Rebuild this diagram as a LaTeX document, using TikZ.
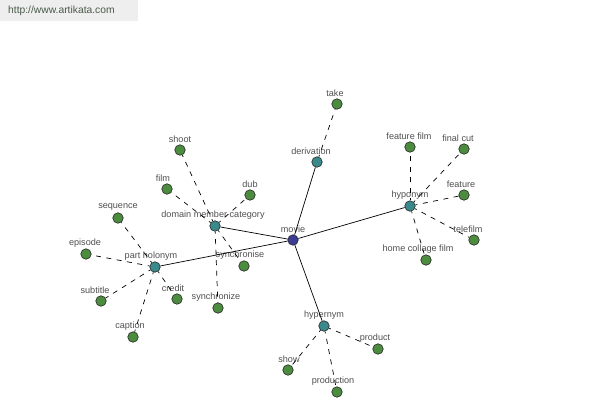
\documentclass[tikz,border=0pt]{standalone}
\usepackage{fontspec}
\setmainfont{Liberation Sans}
\definecolor{leafgreen}{HTML}{4C8C3E}
\definecolor{catteal}{HTML}{3A8A8C}
\definecolor{rootblue}{HTML}{3C3C96}
\definecolor{labgray}{HTML}{505050}
\definecolor{wmbg}{HTML}{EEEEEE}
\definecolor{wmtext}{HTML}{4A5A4A}
\begin{document}
\begin{tikzpicture}[x=1pt,y=-1pt,
  dot/.style={circle,draw=black!85,line width=0.6pt,minimum size=10.5pt,inner sep=0pt},
  leaf/.style={dot,fill=leafgreen},
  catn/.style={dot,fill=catteal},
  rootn/.style={dot,fill=rootblue},
  lab/.style={font=\fontsize{9.1}{10}\selectfont,text=labgray,inner sep=0pt},
  solidedge/.style={draw=black,line width=0.7pt},
  dashedge/.style={draw=black,line width=0.7pt,dash pattern=on 5pt off 5.5pt,dash phase=3pt}]
\useasboundingbox[fill=white] (0,0) rectangle (600,400);
\fill[wmbg] (0,0) rectangle (138,21);
\node[font=\fontsize{10.3}{11}\selectfont,text=wmtext,anchor=west,inner sep=0pt] (wm) at (8,11) {http://www.artikata.com};

% macro: name, x, y, style, text, dx
\newcommand\gnode[6]{%
  \node[#4] (#1) at (#2,#3) {};
  \node[lab] (#1-l) at (#2+#6,#3-11) {#5};}

\gnode{movie}{293}{240}{rootn}{movie}{0}
\gnode{derivation}{317}{162}{catn}{derivation}{-6}
\gnode{take}{337}{104}{leaf}{take}{-2}
\gnode{hyponym}{410}{206}{catn}{hyponym}{0}
\gnode{featurefilm}{410}{147}{leaf}{feature film}{-1}
\gnode{finalcut}{464}{149}{leaf}{final cut}{-6}
\gnode{feature}{464}{195}{leaf}{feature}{-3}
\gnode{telefilm}{474}{240}{leaf}{telefilm}{-6}
\gnode{homecollage}{426}{260}{leaf}{home collage film}{-8}
\gnode{hypernym}{324}{326}{catn}{hypernym}{0}
\gnode{product}{378}{349}{leaf}{product}{-3}
\gnode{show}{288}{370}{leaf}{show}{1}
\gnode{production}{337}{392}{leaf}{production}{-4}
\gnode{dmc}{215}{226}{catn}{domain member category}{-2}
\gnode{shoot}{180}{150}{leaf}{shoot}{0}
\gnode{film}{167}{189}{leaf}{film}{-4}
\gnode{dub}{250}{195}{leaf}{dub}{0}
\gnode{synchronise}{244}{266}{leaf}{synchronise}{-4}
\gnode{synchronize}{218}{308}{leaf}{synchronize}{-2}
\gnode{partholonym}{155}{267}{catn}{part holonym}{-4}
\gnode{sequence}{118}{218}{leaf}{sequence}{0}
\gnode{episode}{86}{254}{leaf}{episode}{-1}
\gnode{subtitle}{101}{301}{leaf}{subtitle}{-6}
\gnode{credit}{177}{299}{leaf}{credit}{-4}
\gnode{caption}{133}{337}{leaf}{caption}{-3}

\foreach \a in {derivation,hyponym,hypernym,dmc,partholonym}
  \draw[solidedge] (movie) -- (\a);
\draw[dashedge] (derivation) -- (take);
\foreach \b in {featurefilm,finalcut,feature,telefilm,homecollage}
  \draw[dashedge] (hyponym) -- (\b);
\foreach \b in {product,show,production}
  \draw[dashedge] (hypernym) -- (\b);
\foreach \b in {shoot,film,dub,synchronise,synchronize}
  \draw[dashedge] (dmc) -- (\b);
\foreach \b in {sequence,episode,subtitle,credit,caption}
  \draw[dashedge] (partholonym) -- (\b);
\end{tikzpicture}
\end{document}
